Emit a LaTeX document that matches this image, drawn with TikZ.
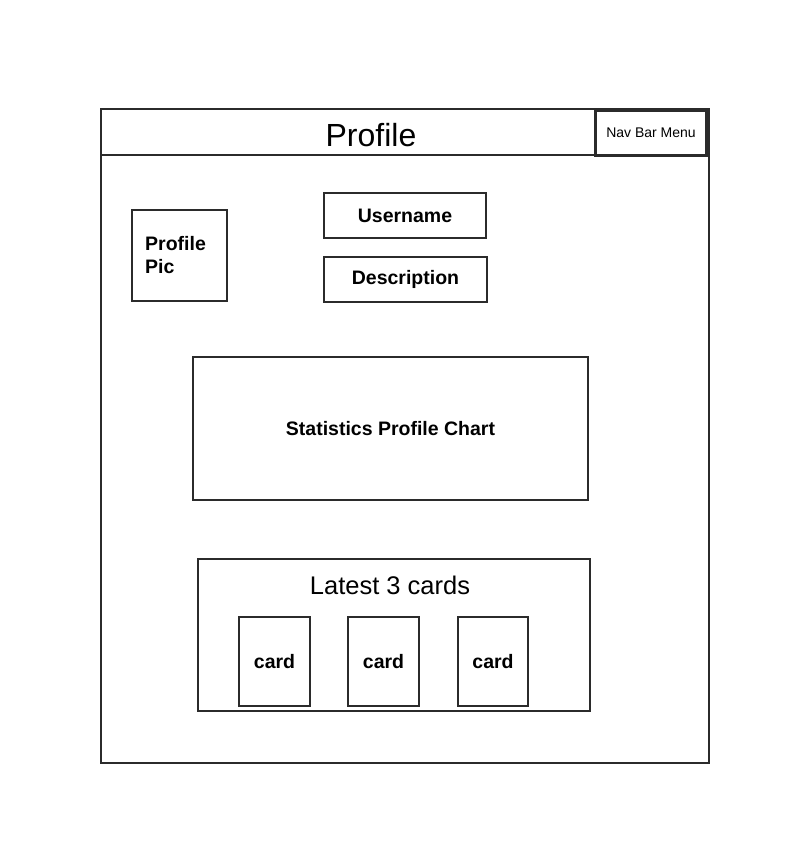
\documentclass[tikz,border=0pt]{standalone}
\usepackage{fontspec}
\setmainfont{Liberation Sans}
\begin{document}
\begin{tikzpicture}[x=1pt,y=-1pt,
  box/.style={draw=linecol,line width=2pt,fill=white},
  boldtxt/.style={font=\fontsize{19.5}{23}\selectfont\bfseries,text=black},
  handtxt/.style={text=black}]
\definecolor{linecol}{HTML}{2B2B2B}
\useasboundingbox (0,0) rectangle (811,864);
\fill[white] (0,0) rectangle (811,864);
% outer frame
\draw[box] (101,109) rectangle (709,763);
\draw[box] (101,109) rectangle (709,155);
\node[handtxt,font=\fontsize{32}{36}\selectfont] (title) at (371,135) {Profile};
\node[draw=linecol,line width=3pt,fill=white,minimum width=111pt,minimum height=45pt,inner sep=0pt,font=\fontsize{14}{16}\selectfont] (nav) at (651,133) {Nav Bar Menu};
% profile pic
\node[box,minimum width=95pt,minimum height=91pt,inner sep=0pt] (pic) at (179.5,255.5) {};
\node[boldtxt,align=left,anchor=west,inner sep=0pt] (pictxt) at (145,255.5) {Profile\\Pic};
% username / description
\node[box,minimum width=162pt,minimum height=45pt,inner sep=0pt,boldtxt] (user) at (405,215.5) {Username};
\node[box,minimum width=163pt,minimum height=45pt,inner sep=0pt,boldtxt] (desc) at (405.5,279.5) {Description};
% statistics
\node[box,minimum width=395pt,minimum height=143pt,inner sep=0pt,boldtxt] (stats) at (390.5,428.5) {Statistics Profile Chart};
% latest cards
\node[box,minimum width=392pt,minimum height=152pt,inner sep=0pt] (latest) at (394,635) {};
\node[handtxt,font=\fontsize{25.5}{30}\selectfont] (latesttxt) at (390,585) {Latest 3 cards};
\node[box,minimum width=71pt,minimum height=89pt,inner sep=0pt,boldtxt] (c1) at (274.5,661.5) {card};
\node[box,minimum width=71pt,minimum height=89pt,inner sep=0pt,boldtxt] (c2) at (383.5,661.5) {card};
\node[box,minimum width=70pt,minimum height=89pt,inner sep=0pt,boldtxt] (c3) at (493,661.5) {card};
\end{tikzpicture}
\end{document}
